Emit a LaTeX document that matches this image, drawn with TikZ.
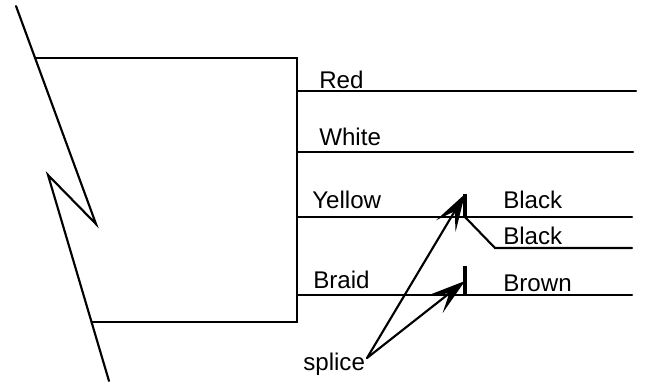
\documentclass[tikz,border=0pt]{standalone}
\usepackage{fontspec}
\setmainfont{Liberation Sans}
\usetikzlibrary{arrows.meta}
\tikzset{wire/.style={line width=1.6pt,black,line cap=round,line join=miter},
 lbl/.style={font=\fontsize{18.1}{21}\selectfont,inner sep=0pt,anchor=base west,text=black},
 arr/.style={wire,-{Stealth[length=28pt,width=17pt,inset=13pt]}}}
\begin{document}
\begin{tikzpicture}[x=0.75pt,y=-0.75pt]
\useasboundingbox (0,0) rectangle (645,385);
\coordinate (A) at (16,6);\coordinate (B) at (96,224);\coordinate (C) at (48,175);\coordinate (D) at (109,381);
\coordinate (T) at (36,58);\coordinate (TR) at (297,58);\coordinate (BR) at (297,322);\coordinate (BL) at (92,322);
\draw[wire] (A)--(B)--(C)--(D);
\draw[wire] (T)--(TR)--(BR)--(BL);
\coordinate (r1) at (297,91);\coordinate (r1e) at (636,91);
\coordinate (r2) at (297,152);\coordinate (r2e) at (633,152);
\coordinate (r3) at (297,217);\coordinate (r3e) at (632,217);
\coordinate (r4) at (297,295);\coordinate (r4e) at (632,295);
\coordinate (k1) at (465,217);\coordinate (k2) at (495,248);\coordinate (k2e) at (632,248);
\coordinate (s1) at (465,194);\coordinate (s2) at (465,266);\coordinate (s2b) at (465,296);
\draw[wire] (r1)--(r1e);\draw[wire] (r2)--(r2e);\draw[wire] (r3)--(r3e);\draw[wire] (r4)--(r4e);
\draw[wire] (k1)--(k2)--(k2e);
\draw[line width=2.5pt] (s1)--(k1);\draw[line width=2.5pt] (s2)--(s2b);
\node[lbl] (red) at (319,89) {Red};
\node[lbl] (white) at (319,145) {White};
\node[lbl] (yellow) at (312,208) {Yellow};
\node[lbl] (braid) at (313,288) {Braid};
\node[lbl] (b1) at (503,208) {Black};
\node[lbl] (b2) at (503,244) {Black};
\node[lbl] (brown) at (503,291) {Brown};
\node[lbl] (splice) at (303,370) {splice};
\coordinate (sp) at (367,358);
\draw[arr] (sp)--(s1);
\draw[arr] (sp)--(465,281);
\end{tikzpicture}
\end{document}
